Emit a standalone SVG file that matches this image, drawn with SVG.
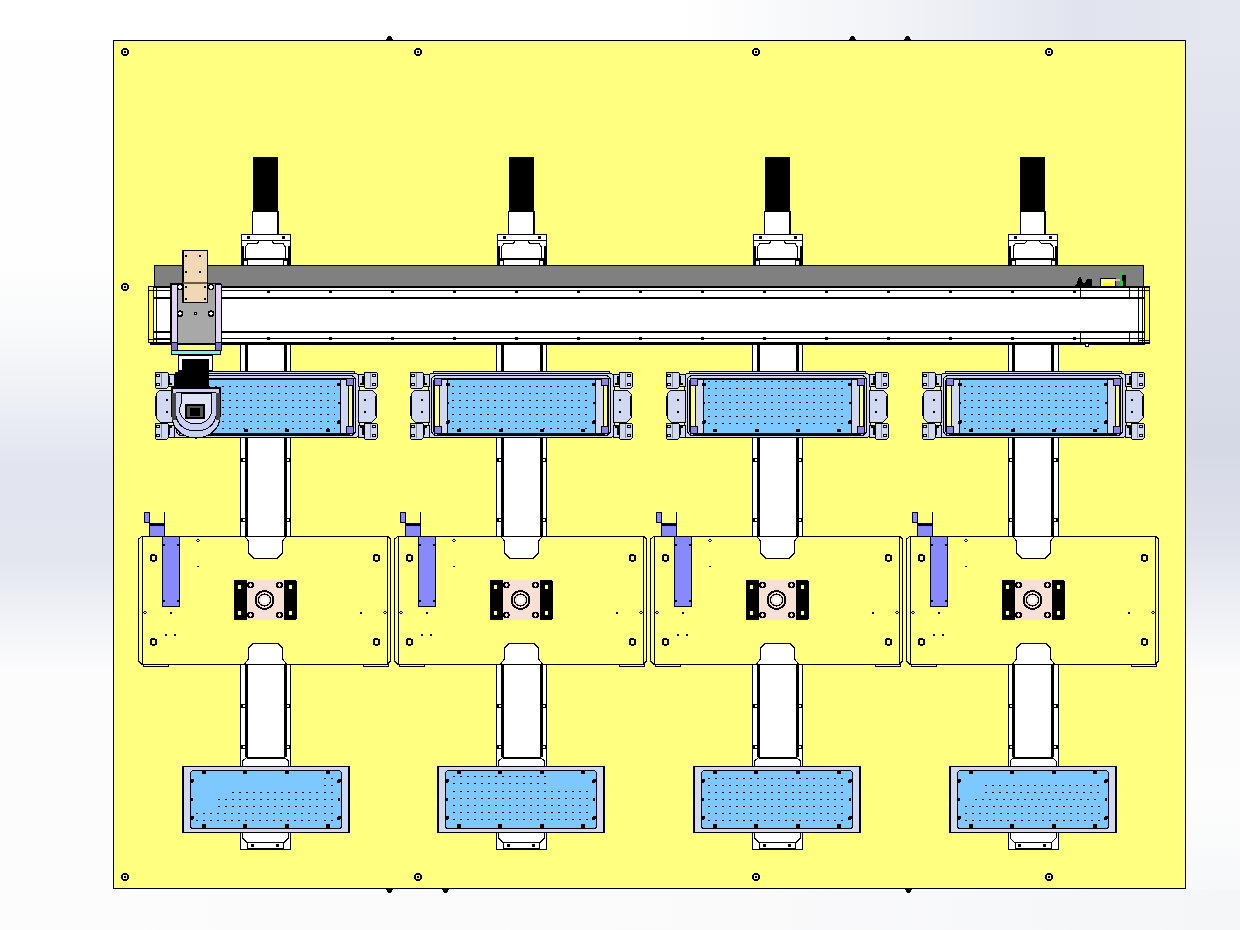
<svg xmlns="http://www.w3.org/2000/svg" width="1240" height="930" viewBox="0 0 1240 930" shape-rendering="crispEdges">
<style>
.k{stroke:#000;stroke-width:1;fill:none}
.kt{stroke:#000;stroke-width:2;fill:none}
.w{fill:#fff;stroke:#000;stroke-width:1}
.y{fill:#ffff80;stroke:#000;stroke-width:1}
.l{fill:#d0d8f2;stroke:#000;stroke-width:1}
.b{fill:#7cc8ff;stroke:#000;stroke-width:1}
.p{fill:#8888ff;stroke:#000;stroke-width:1}
.d{fill:#000}
.dots{stroke:#000;stroke-width:1;fill:none;stroke-dasharray:1.5 5.5}
.dots2{stroke:#000;stroke-width:1;fill:none;stroke-dasharray:2 5}
</style>
<defs>
<linearGradient id="gl" x1="0" y1="0" x2="0" y2="1"><stop offset=".28" stop-color="#fefefe"/><stop offset=".36" stop-color="#f8f9fa"/><stop offset=".5" stop-color="#e2e5ef"/><stop offset=".6" stop-color="#e3e6ef"/><stop offset=".72" stop-color="#fcfcfd"/><stop offset="1" stop-color="#fcfcfc"/></linearGradient>
<linearGradient id="gr" x1="0" y1="0" x2="0" y2="1"><stop offset="0" stop-color="#e5e8f0"/><stop offset=".48" stop-color="#d5d9e6"/><stop offset=".58" stop-color="#dfe2ec"/><stop offset=".72" stop-color="#fbfbfc"/><stop offset=".85" stop-color="#fdfdfd"/><stop offset="1" stop-color="#f5f6f8"/></linearGradient>
<linearGradient id="gt" x1="0" y1="0" x2="1" y2="0"><stop offset=".55" stop-color="#ffffff"/><stop offset=".72" stop-color="#f2f3f7"/><stop offset=".87" stop-color="#e1e4ee"/><stop offset="1" stop-color="#e4e7ef"/></linearGradient>
<linearGradient id="gb" x1="0" y1="0" x2="1" y2="0"><stop offset="0" stop-color="#fcfcfc"/><stop offset=".6" stop-color="#fafafb"/><stop offset="1" stop-color="#f5f6f8"/></linearGradient>
<g id="hole"><circle r="3.200" fill="#ffff80" stroke="#000" stroke-width="1.300"/><circle r=".8" class="d"/></g>
<g id="hole2"><circle r="3" fill="#ffff80" stroke="#000" stroke-width="1.800"/></g>
<g id="rail">
<rect x="-13" y="157" width="25" height="55" class="d"/>
<rect x="-13" y="211.500" width="25" height="23" class="w"/>
<path d="M12,211V234" class="kt"/>
<rect x="-24.500" y="234.500" width="49" height="31" class="w"/>
<rect x="-24.500" y="234.500" width="49" height="6" class="w"/>
<path d="M-23,265V246M23,265V246" class="kt"/>
<path d="M-20,258V247L-17,243H-8L-6,240.500H6L8,243H17L20,247V258" class="k"/>
<path d="M-23,258.500H23" class="kt"/>
<rect x="-22" y="260.500" width="4" height="4.500" class="w"/><rect x="18" y="260.500" width="4" height="4.500" class="w"/>
<rect x="-19" y="236" width="3" height="3" class="d"/><rect x="16" y="236" width="3" height="3" class="d"/>
<rect x="-25" y="344" width="50" height="505" class="w"/>
<rect x="-19.500" y="344" width="39" height="415" fill="#fff"/>
<path d="M-19.500,344V757M19.500,344V757" stroke="#000" stroke-width="3" fill="none"/>
<path d="M-25,460h6M19,460h6M-25,520h6M19,520h6M-25,706h6M19,706h6M-25,747h6M19,747h6" stroke="#000" stroke-width="4" fill="none"/>
<path d="M-23,460h2M21,460h2M-23,520h2M21,520h2M-23,706h2M21,706h2M-23,747h2M21,747h2" stroke="#fff" stroke-width="2" fill="none"/>
<path d="M-23,766V761L-19,757.500H19L23,761V766" fill="#fff" stroke="#000" stroke-width="1"/>
<path d="M-19,757.500H19" class="kt"/>
<path d="M-23,833V838L-19,842H19L23,838V833" class="k"/>
<rect x="-18" y="842.500" width="36" height="6" class="w"/>
<rect x="-15" y="844" width="3" height="3" class="d"/><rect x="10" y="844" width="3" height="3" class="d"/>
</g>
<g id="plate">
<path d="M-123,536H-21L-17,541V553L-12,558H12L17,553V541L21,536H122L125,539V661L122,664H21L17,659V648L12,643H-12L-17,648V659L-21,664H-124L-127,661V539Z" class="y" stroke-width="1.200"/>
<path d="M-17,541V553L-12,558H12L17,553V541L21,536H-21ZM-17,659V648L-12,643H12L17,648V659L21,664H-21Z" fill="#fff" stroke="#000"/>
<path d="M-123.500,536V664M121.500,536V664" class="k"/>
<path d="M-122.500,664v2.500h25v-2.500M97.500,664v2.500h25v-2.500" class="k"/>
<rect x="-103.500" y="536.500" width="17" height="70" class="p"/>
<rect x="-116.500" y="525" width="15" height="11" class="p"/>
<path d="M-101.500,512V536" class="k"/>
<path d="M-117,524h16" class="kt"/>
<rect x="-121.500" y="512.500" width="5" height="10" class="p"/>
<use href="#hole2" x="-112" y="558"/><use href="#hole2" x="111" y="558"/><use href="#hole2" x="-112" y="642"/><use href="#hole2" x="111" y="642"/>
<rect x="-103" y="544" width="2" height="2" class="d"/><rect x="-89" y="544" width="2" height="2" class="d"/><rect x="-103" y="600" width="2" height="2" class="d"/><rect x="-89" y="600" width="2" height="2" class="d"/>
<circle cx="-67.500" cy="540.500" r="1.200" class="k"/><path d="M-69,567h3l-1.500,-2z" class="d"/><circle cx="-120.500" cy="612.500" r="1.200" class="k"/><rect x="-96" y="611.500" width="2" height="2" class="d"/><rect x="-101" y="634" width="2.200" height="2.200" class="d"/><rect x="-92" y="634" width="2.200" height="2.200" class="d"/><rect x="94" y="612" width="2" height="2" class="d"/><circle cx="119.500" cy="612.500" r="1.200" class="k"/>
<rect x="-32" y="580" width="63" height="40" rx="1" class="d"/>
<rect x="-19" y="580" width="37" height="40" fill="#f8e0d4"/>
<circle cx="-26" cy="587" r="2" fill="#ffff80"/><circle cx="-26" cy="613" r="2" fill="#ffff80"/><circle cx="25" cy="587" r="2" fill="#ffff80"/><circle cx="25" cy="613" r="2" fill="#ffff80"/>
<g fill="#f8e0d4" stroke="#000" stroke-width="1.600"><circle cx="-15" cy="585" r="2.500"/><circle cx="14" cy="585" r="2.500"/><circle cx="-15" cy="615" r="2.500"/><circle cx="14" cy="615" r="2.500"/></g>
<circle cx="-1" cy="600" r="9" fill="#f8e0d4" stroke="#000" stroke-width="2"/><circle cx="-1" cy="600" r="6" fill="#f8e0d4" stroke="#000" stroke-width="1.200"/><circle cx="-1" cy="600" r="3.500" fill="#fff"/>
</g>
<g id="clamp">
<rect x="-111" y="372" width="13" height="16" rx="1" class="l" stroke-width="1.200"/>
<rect x="-98" y="374" width="6" height="12" class="l"/>
<path d="M-97,376v8h3" class="kt"/>
<circle cx="-108" cy="375.500" r="1.500" class="w"/><circle cx="-108" cy="384.500" r="1.500" class="w"/>
<path d="M-104.500,373v14" stroke="#888" fill="none"/>
</g>
<g id="side">
<path d="M-92,390H-106L-110,394V418L-106,422H-92Z" class="l"/>
<path d="M-110,396v20" class="kt"/>
<rect x="-100" y="399" width="1.600" height="1.600" class="d"/><rect x="-100" y="411" width="1.600" height="1.600" class="d"/>
<use href="#clamp"/><use href="#clamp" transform="translate(0,811) scale(1,-1)"/>
<rect x="-87" y="379" width="13" height="54" class="l"/>
<rect x="-86.500" y="385" width="4.500" height="41" fill="#ffff80" stroke="#000"/>
<rect x="-87" y="378" width="7" height="7" fill="#8f7fe8" stroke="#000"/><rect x="-87" y="426" width="7" height="7" fill="#8f7fe8" stroke="#000"/>
</g>
<g id="topframe">
<rect x="-88" y="371" width="176" height="3" class="l"/>
<rect x="-93" y="373.500" width="186" height="64" rx="4" class="l" stroke-width="1.200"/>
<rect x="-89.500" y="375.500" width="179" height="60" rx="5" fill="none" stroke="#000"/>
<rect x="-87.500" y="378" width="175" height="56" rx="4" fill="none" stroke="#000"/>
<rect x="-74" y="379" width="148" height="54" fill="#7cc8ff"/>
<path d="M-74,379H74M-74,433H74" class="k"/>
<use href="#side"/><use href="#side" transform="scale(-1,1)"/>
<rect x="-64" y="428.500" width="4" height="3.500" class="d"/><rect x="-22" y="428.500" width="4" height="3.500" class="d"/><rect x="19" y="428.500" width="4" height="3.500" class="d"/><rect x="60" y="428.500" width="4" height="3.500" class="d"/>
<g class="d"><circle cx="-73" cy="384.500" r="2"/><circle cx="-73" cy="403" r="1.500"/><circle cx="-73" cy="422" r="2"/><circle cx="73" cy="384.500" r="2"/><circle cx="73" cy="403" r="1.500"/><circle cx="73" cy="422" r="2"/></g>
</g>
<g id="bottomframe">
<rect x="-83" y="766.500" width="166" height="66" fill="#d0d8f2" stroke="#000" stroke-width="1.200"/>
<rect x="-75.500" y="770.500" width="151" height="58" rx="3" class="b"/>
<g class="d"><circle cx="-62" cy="772" r="2.200"/><circle cx="-21" cy="772" r="2.200"/><circle cx="21" cy="772" r="2.200"/><circle cx="62" cy="772" r="2.200"/><circle cx="-62" cy="826" r="2.200"/><circle cx="-21" cy="826" r="2.200"/><circle cx="21" cy="826" r="2.200"/><circle cx="62" cy="826" r="2.200"/><circle cx="-74" cy="781" r="2"/><circle cx="-74" cy="818" r="2"/><circle cx="73" cy="781" r="2"/><circle cx="73" cy="818" r="2"/><circle cx="-74" cy="799.500" r="1.300"/><circle cx="73" cy="799.500" r="1.300"/></g>
</g>
</defs>
<g id="background">
<rect width="1240" height="930" fill="#fdfdfd"/>
<rect x="0" y="0" width="113" height="930" fill="url(#gl)"/>
<rect x="1186" y="0" width="54" height="930" fill="url(#gr)"/>
<rect x="0" y="0" width="1240" height="40" fill="url(#gt)"/>
<rect x="0" y="889" width="1240" height="41" fill="url(#gb)"/>
</g>
<g id="panel">
<path d="M386,40l2,-4h3l2,4zM849,40l2,-4h3l2,4zM904,40l2,-4h3l2,4z" class="d"/>
<path d="M386,889l2,4h3l2,-4zM442,889l2,4h3l2,-4zM905,889l2,4h3l2,-4z" class="d"/>
<rect x="113.500" y="40.500" width="1072" height="848" fill="#ffff80" stroke="#000" stroke-width="1.500"/>
<use href="#hole" x="125" y="52"/><use href="#hole" x="418" y="52"/><use href="#hole" x="756" y="52"/><use href="#hole" x="1049" y="52"/>
<use href="#hole" x="125" y="287"/>
<use href="#hole" x="125" y="877"/><use href="#hole" x="418" y="877"/><use href="#hole" x="756" y="877"/><use href="#hole" x="1049" y="877"/>
</g>
<g id="rails">
<use id="rail-1" href="#rail" x="265.500"/><use id="rail-2" href="#rail" x="521.500"/><use id="rail-3" href="#rail" x="777.500"/><use id="rail-4" href="#rail" x="1033"/>
</g>
<g id="plates">
<use id="plate-1" href="#plate" x="265.500"/><use id="plate-2" href="#plate" x="521.500"/><use id="plate-3" href="#plate" x="777.500"/><use id="plate-4" href="#plate" x="1033.500"/>
</g>
<g id="table-top-1"><use href="#topframe" x="266"/>
<path class="dots" d="M208,386H335M208,393H335M208,400H335M208,407H335M208,414H335M208,421H335M208,428H335"/></g>
<g id="table-top-2"><use href="#topframe" x="521"/>
<path class="dots" d="M452,386H590M452,393H590M452,400H590M452,407H590M452,414H590M452,421H590M452,428H590"/></g>
<g id="table-top-3"><use href="#topframe" x="777"/>
<path class="dots2" d="M708,381H846M708,388H846M708,395H846M708,402H846M708,409H846M708,416H846M708,423H846"/></g>
<g id="table-top-4"><use href="#topframe" x="1033"/>
<path class="dots" d="M964,386H1102M964,393H1102M964,400H1102M964,407H1102M964,414H1102M964,421H1102M964,428H1102"/></g>
<g id="table-bottom-1"><use href="#bottomframe" x="266"/>
<path class="dots" d="M232,792H318M218,799H318M218,806H318M196,813H318M196,820H318"/>
<path class="dots" d="M324,778H336M324,785H336M324,792H336M324,799H336M324,806H336M324,813H336M324,820H336"/></g>
<g id="table-bottom-2"><use href="#bottomframe" x="521"/>
<path class="dots2" d="M453,776H547M453,783H547M453,791H590M453,798H590M453,805H590M453,812H590M453,819H590"/></g>
<g id="table-bottom-3"><use href="#bottomframe" x="777"/>
<path class="dots" d="M708,778H846M708,785H846M708,792H846M708,799H846M708,806H846M708,813H846M708,820H846"/></g>
<g id="table-bottom-4"><use href="#bottomframe" x="1033"/>
<path class="dots" d="M985,785H1100M985,792H1100M975,799H1100M965,806H1100M965,813H1100M965,820H1100"/></g>
<g id="crossbar">
<rect x="154.500" y="265.500" width="989" height="22" fill="#808080" stroke="#000"/>
<path d="M1074,286l3,-3l2,-6h2l2,6l3,-1l1,-3h5v7z" class="d"/>
<rect x="1100.500" y="278.500" width="15" height="8" fill="#ffff80" stroke="#000"/><rect x="1103" y="283" width="9" height="3" fill="#ffff00"/>
<rect x="1115" y="279" width="5" height="2" fill="#f0b0b0"/>
<rect x="1120" y="275" width="6" height="11" class="d"/><rect x="1120" y="271" width="1.500" height="15" fill="#30c040"/><rect x="1120" y="281" width="3" height="5" fill="#20d040"/>
<rect x="150" y="286" width="998" height="57.500" fill="#fff"/>
<path d="M150,286.500H1145" class="kt"/>
<path d="M150,290.500H1145M150,338.500H1145" class="k"/>
<path d="M150,297.500H1145M150,331.500H1145" class="kt"/>
<path d="M150,343H1145" stroke="#000" stroke-width="3" fill="none"/>
<path d="M267,291H1080M267,338.500H1080" stroke="#000" stroke-width="3" stroke-dasharray="3 59" fill="none"/>
<path d="M1080.500,287V298M1080.500,331V343M1129,287V298M1129,331V343M1138,287V343" class="k"/>
<rect x="1081" y="291.500" width="47.500" height="5" fill="#fff"/>
<rect x="1081" y="332.500" width="47.500" height="5.500" fill="#fff"/>
<rect x="1085" y="343.500" width="3" height="3" class="w"/>
<rect x="1144.500" y="287" width="5" height="56" fill="#ffff20" stroke="#000" stroke-width="1.500"/>
<path d="M1138,290h12M1138,340h12M1142,287V343" class="k"/>
<rect x="148.500" y="286.500" width="5" height="56" fill="#ffff20" stroke="#000" stroke-width="1.500"/>
<path d="M148,290h22M148,339h22M156,287V343" class="k"/>
</g>
<g id="head">
<rect x="178.500" y="355.500" width="34" height="15" class="w"/>
<rect x="182" y="359" width="27" height="28" class="d"/><rect x="175" y="372" width="9" height="15" class="d"/>
<path d="M172,388H220V416C220,430 208,438 196,438C184,438 172,430 172,416Z" fill="#c8d0f4" stroke="#000" stroke-width="1.200"/>
<rect x="172" y="393" width="4" height="27" fill="#444"/><rect x="216" y="393" width="4" height="27" fill="#444"/>
<path d="M176,392H216M176,416C178,426 186,431 196,431C206,431 214,426 216,416" fill="none" stroke="#000"/>
<path d="M181,393V404L179,410C181,419 188,424 196,424C204,424 211,419 212,410L211,404V393Z" fill="#dfe3fa" stroke="#000"/>
<rect x="186" y="405" width="18" height="13" fill="#555" stroke="#000" stroke-width="1.500"/><rect x="190" y="408" width="10" height="8" class="d"/>
</g>
<g id="carriage">
<rect x="170.500" y="283.500" width="50" height="60" fill="#a8a8a8" stroke="#000" stroke-width="1.200"/>
<rect x="171" y="284" width="6" height="59" fill="#e2d4f4" stroke="#000"/><rect x="215" y="284" width="6" height="59" fill="#e2d4f4" stroke="#000"/>
<rect x="171" y="342" width="6" height="8" fill="#7d6ee0" stroke="#000"/><rect x="215" y="342" width="6" height="8" fill="#7d6ee0" stroke="#000"/>
<rect x="171" y="350" width="49.500" height="4" fill="#80f0e0" stroke="#000"/>
<rect x="183" y="250.500" width="24.500" height="52" fill="#f0d8b4" stroke="#000" stroke-width="1.200"/>
<path d="M183,283h24" stroke="#6a5a40" stroke-width="2.500" fill="none"/>
<g class="d"><circle cx="186" cy="256" r="1.300"/><circle cx="200" cy="256" r="1.300"/><circle cx="186" cy="272" r="1.300"/><circle cx="200" cy="272" r="1.300"/><circle cx="186" cy="299" r="1.500"/><circle cx="205" cy="299" r="1.500"/><circle cx="186" cy="287" r="1.500"/><circle cx="205" cy="287" r="1.500"/></g>
<g fill="#fff" stroke="#000" stroke-width="1.500"><circle cx="180" cy="287" r="2.500"/><circle cx="211" cy="287" r="2.500"/><circle cx="180" cy="313.500" r="2.500"/><circle cx="211" cy="313.500" r="2.500"/></g>
<circle cx="195.500" cy="313.500" r="1.200" class="w"/>
</g>
</svg>
